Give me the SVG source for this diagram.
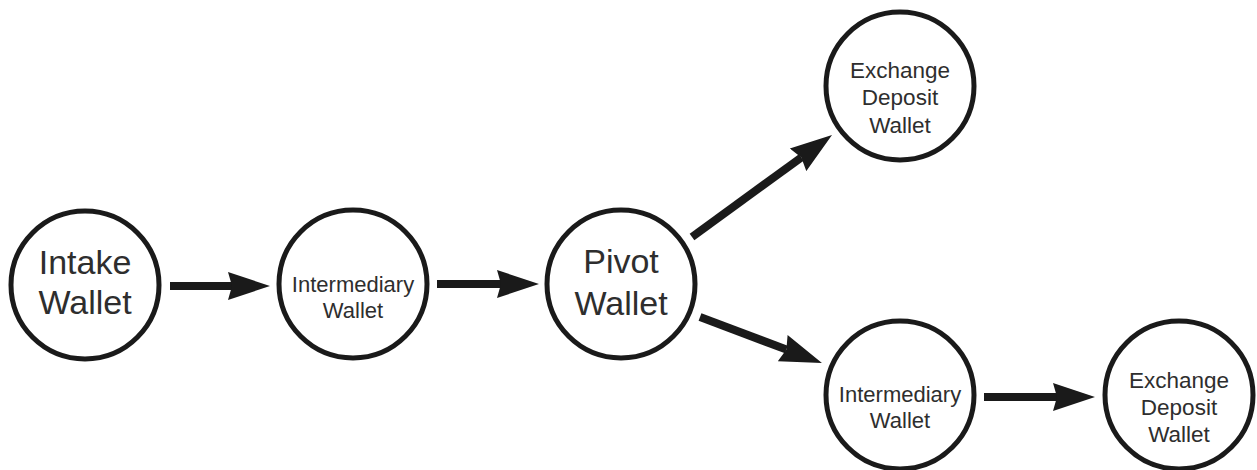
<svg xmlns="http://www.w3.org/2000/svg" width="1257" height="470" viewBox="0 0 1257 470">
  <style>
    .node circle { fill: #ffffff; stroke: #1a1a1a; stroke-width: 5; }
    .node text { font-family: "Liberation Sans", Arial, sans-serif; fill: #2e2e2e; text-anchor: middle; }
    .big { font-size: 34px; }
    .small { font-size: 22px; }
    .mid { font-size: 22.5px; }
    .edge { stroke: #1a1a1a; stroke-width: 8; fill: none; marker-end: url(#arrow); }
  </style>
  <defs>
    <marker id="arrow" markerUnits="userSpaceOnUse" markerWidth="44" markerHeight="30" refX="4" refY="14" orient="auto" viewBox="0 0 44 28">
      <path d="M0,0 L42,14 L0,28 L4,14 Z" fill="#1a1a1a"/>
    </marker>
  </defs>
  <rect width="1257" height="470" fill="#ffffff"/>
  <g id="connectors">
    <line class="edge" x1="170" y1="286" x2="232" y2="286"/>
    <line class="edge" x1="437" y1="284" x2="501" y2="284"/>
    <line class="edge" x1="692" y1="237" x2="801.3" y2="157.4"/>
    <line class="edge" x1="700" y1="317" x2="786.4" y2="349.6"/>
    <line class="edge" x1="984" y1="397" x2="1057" y2="397"/>
  </g>
  <g id="intake" class="node">
    <circle cx="85" cy="285" r="74"/>
    <text class="big" x="85" y="274">Intake</text>
    <text class="big" x="85" y="314">Wallet</text>
  </g>
  <g id="intermediary1" class="node">
    <circle cx="353" cy="284" r="74"/>
    <text class="small" x="353" y="292">Intermediary</text>
    <text class="small" x="353" y="318">Wallet</text>
  </g>
  <g id="pivot" class="node">
    <circle cx="621" cy="284" r="74"/>
    <text class="big" x="621" y="273">Pivot</text>
    <text class="big" x="621" y="315">Wallet</text>
  </g>
  <g id="exchange1" class="node">
    <circle cx="900" cy="86" r="74"/>
    <text class="mid" x="900" y="78">Exchange</text>
    <text class="mid" x="900" y="105">Deposit</text>
    <text class="mid" x="900" y="133">Wallet</text>
  </g>
  <g id="intermediary2" class="node">
    <circle cx="900" cy="395" r="74"/>
    <text class="small" x="900" y="402">Intermediary</text>
    <text class="small" x="900" y="428">Wallet</text>
  </g>
  <g id="exchange2" class="node">
    <circle cx="1179" cy="395" r="74"/>
    <text class="mid" x="1179" y="388">Exchange</text>
    <text class="mid" x="1179" y="415">Deposit</text>
    <text class="mid" x="1179" y="442">Wallet</text>
  </g>
</svg>
